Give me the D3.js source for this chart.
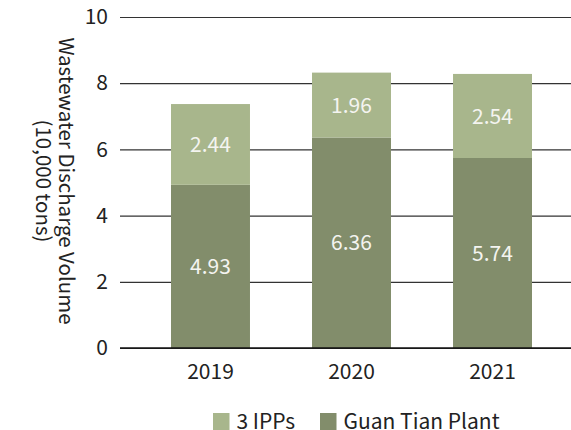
<!DOCTYPE html>
<html>
<head>
<meta charset="utf-8">
<script src="https://cdn.jsdelivr.net/npm/d3@7"></script>
<style>
  html, body { margin: 0; padding: 0; background: #fff; }
  svg { display: block; }
  text { font-family: "Noto Sans CJK TC", "Noto Sans", sans-serif; }
</style>
</head>
<body>
<svg id="chart" width="571" height="430"></svg>
<script>
// Wastewater discharge volume by year (10,000 tons)
const years = ["2019", "2020", "2021"];
const guanTian = [4.93, 6.36, 5.74];
const ipps = [2.44, 1.96, 2.54];
const seriesNames = ["Guan Tian Plant", "3 IPPs"];
const legendNames = ["3 IPPs", "Guan Tian Plant"];
const yTicks = [0, 2, 4, 6, 8, 10];

const colors = { "Guan Tian Plant": "#828d6b", "3 IPPs": "#a8b68c" };

const W = 571, H = 430;
const plotLeft = 120, plotTop = 17, plotBottom = 348;
const fs = 21;

const svg = d3.select("#chart");

const rows = years.map((yr, i) => ({ year: yr, "Guan Tian Plant": guanTian[i], "3 IPPs": ipps[i] }));
const stacked = d3.stack().keys(seriesNames)(rows);

const x = d3.scaleBand().domain(years).range([plotLeft, 583])
  .paddingInner(0.44).paddingOuter(0.3617);
const y = d3.scaleLinear().domain([0, 10]).range([plotBottom, plotTop]);

// horizontal gridlines + tick labels
const yAxis = d3.axisLeft(y).tickValues(yTicks).tickSize(-(W - plotLeft)).tickPadding(12).tickFormat(d3.format("d"));
const gy = svg.append("g").attr("transform", `translate(${plotLeft},0)`).call(yAxis);
gy.select(".domain").remove();
gy.selectAll(".tick line").attr("stroke", "#333").attr("stroke-width", 1.2);
gy.selectAll(".tick text").attr("fill", "#222").attr("font-size", fs);

// stacked bars
const layers = svg.append("g").selectAll("g").data(stacked).join("g")
  .attr("fill", d => colors[d.key]);
layers.selectAll("rect").data(d => d).join("rect")
  .attr("x", d => x(d.data.year))
  .attr("width", x.bandwidth())
  .attr("y", d => y(d[1]))
  .attr("height", d => y(d[0]) - y(d[1]));

// value labels inside segments
svg.append("g").selectAll("g").data(stacked).join("g")
  .selectAll("text").data(d => d).join("text")
  .attr("x", d => x(d.data.year) + x.bandwidth() / 2)
  .attr("y", d => (y(d[0]) + y(d[1])) / 2)
  .attr("dy", "0.36em")
  .attr("text-anchor", "middle")
  .attr("fill", "#f4f4f0")
  .attr("font-size", fs)
  .text(d => d3.format(".2f")(d[1] - d[0]));

// baseline
svg.append("line").attr("x1", plotLeft).attr("x2", W).attr("y1", y(0)).attr("y2", y(0))
  .attr("stroke", "#111").attr("stroke-width", 1.5);

// year labels
const xAxis = d3.axisBottom(x).tickSize(0).tickPadding(16);
const gx = svg.append("g").attr("transform", `translate(0,${plotBottom})`).call(xAxis);
gx.select(".domain").remove();
gx.selectAll(".tick text").attr("fill", "#222").attr("font-size", fs);

// y-axis title, rotated to read top-to-bottom
const title = svg.append("text")
  .attr("transform", "translate(59,181) rotate(90)")
  .attr("text-anchor", "middle")
  .attr("fill", "#222")
  .attr("font-size", 20.5);
title.append("tspan").attr("x", 0).attr("dy", 0).text("Wastewater Discharge Volume");
title.append("tspan").attr("x", 0).attr("dy", 23).text("(10,000 tons)");

// legend
const legendX = [213, 320];
const lg = svg.append("g").selectAll("g").data(legendNames).join("g")
  .attr("transform", (d, i) => `translate(${legendX[i]},413)`);
lg.append("rect").attr("width", 16.5).attr("height", 17).attr("fill", d => colors[d]);
lg.append("text").attr("x", 23.5).attr("y", 15.5).attr("fill", "#222").attr("font-size", fs).text(d => d);
</script>
</body>
</html>
